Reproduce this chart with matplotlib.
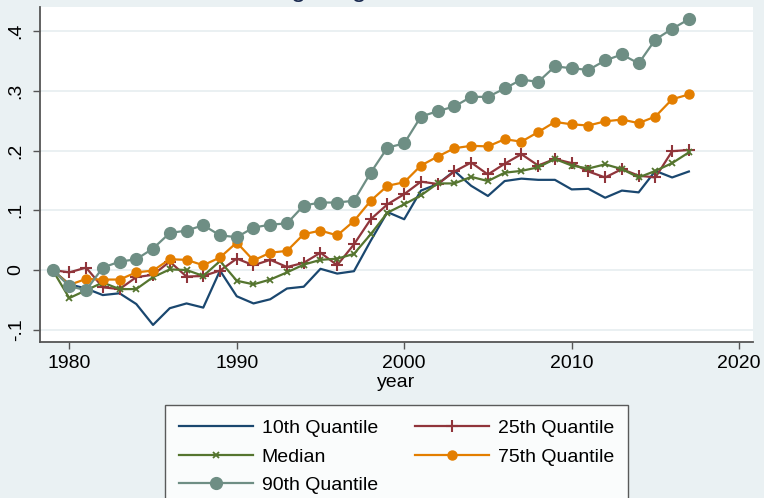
import matplotlib.pyplot as plt

plt.rcParams['font.family'] = ['Liberation Sans', 'DejaVu Sans']

years = list(range(1979, 2018))

q10 = [0, -0.024, -0.031, -0.042, -0.039, -0.057, -0.092, -0.064, -0.056, -0.063, -0.001,
       -0.044, -0.056, -0.049, -0.031, -0.028, 0.002, -0.006, -0.002, 0.049, 0.097,
       0.085, 0.133, 0.144, 0.166, 0.141, 0.124, 0.149, 0.153, 0.151, 0.151,
       0.135, 0.136, 0.121, 0.133, 0.130, 0.166, 0.155, 0.165]
q25 = [0, -0.004, 0.004, -0.029, -0.032, -0.012, -0.008, 0.014, -0.011, -0.010, -0.001,
       0.019, 0.008, 0.017, 0.005, 0.012, 0.029, 0.008, 0.043, 0.085, 0.110,
       0.127, 0.148, 0.144, 0.165, 0.180, 0.160, 0.178, 0.194, 0.175, 0.186,
       0.179, 0.165, 0.155, 0.169, 0.158, 0.155, 0.199, 0.201]
q50 = [0, -0.047, -0.034, -0.021, -0.032, -0.032, -0.012, 0.001, 0.000, -0.010, 0.015,
       -0.018, -0.024, -0.016, -0.004, 0.009, 0.017, 0.019, 0.027, 0.060, 0.096,
       0.110, 0.125, 0.145, 0.145, 0.156, 0.149, 0.163, 0.166, 0.172, 0.186,
       0.175, 0.170, 0.177, 0.169, 0.155, 0.166, 0.179, 0.197]
q75 = [0, -0.025, -0.015, -0.016, -0.016, -0.004, -0.001, 0.018, 0.017, 0.008, 0.021,
       0.046, 0.016, 0.029, 0.032, 0.060, 0.066, 0.058, 0.082, 0.116, 0.141,
       0.147, 0.175, 0.190, 0.204, 0.208, 0.207, 0.219, 0.215, 0.231, 0.248,
       0.244, 0.242, 0.249, 0.252, 0.246, 0.257, 0.286, 0.294]
q90 = [0, -0.027, -0.034, 0.004, 0.014, 0.018, 0.036, 0.062, 0.066, 0.075, 0.058,
       0.055, 0.071, 0.076, 0.078, 0.108, 0.113, 0.113, 0.116, 0.163, 0.205,
       0.212, 0.257, 0.266, 0.274, 0.290, 0.290, 0.304, 0.319, 0.315, 0.341,
       0.338, 0.335, 0.351, 0.361, 0.346, 0.386, 0.404, 0.420]

xticks = [1980, 1990, 2000, 2010, 2020]
yticks = [-0.1, 0, 0.1, 0.2, 0.3, 0.4]
ylabels = ['-.1', '0', '.1', '.2', '.3', '.4']

bg = '#eaf1f3'
fig = plt.figure(figsize=(7.64, 4.98), dpi=100, facecolor=bg)
ax = fig.add_axes([40 / 764, 1 - 342 / 498, 713 / 764, 335 / 498])
ax.set_facecolor('white')

l10, = ax.plot(years, q10, color='#1a476f', lw=1.6, label='10th Quantile')
l25, = ax.plot(years, q25, color='#90353b', lw=1.6, marker='+', ms=9, mew=1.5,
               label='25th Quantile')
l50, = ax.plot(years, q50, color='#55752f', lw=1.6, marker='x', ms=4, mew=1.3,
               label='Median')
l75, = ax.plot(years, q75, color='#e37e00', lw=1.6, marker='o', ms=6.5,
               label='75th Quantile')
l90, = ax.plot(years, q90, color='#6e8e84', lw=1.6, marker='o', ms=8.5,
               label='90th Quantile')

ax.set_xlim(1978.25, 2020.83)
ax.set_ylim(-0.1206, 0.4405)
ax.set_xticks(xticks)
ax.set_yticks(yticks)
ax.set_yticklabels(ylabels, rotation=90, va='center')
ax.tick_params(labelsize=14, length=5, width=1, color='#555555', pad=4)
ax.tick_params(axis='y', pad=6)
ax.grid(axis='y', color='#e6eef0', lw=1.2)
ax.set_axisbelow(True)
for s in ['top', 'right']:
    ax.spines[s].set_visible(False)
for s in ['left', 'bottom']:
    ax.spines[s].set_color('#555555')
    ax.spines[s].set_linewidth(1.3)
ax.set_xlabel('year', fontsize=14, labelpad=2)

# title is mostly outside the picture in the reference
fig.text(262 / 764, 1 + 2.5 / 498, 'Log Wage Growth', fontsize=19, color='#1a2a4f',
         ha='left', va='baseline')

leg = fig.legend([l10, l50, l90, l25, l75],
                 ['10th Quantile', 'Median', '90th Quantile', '25th Quantile', '75th Quantile'],
                 ncol=2, loc='upper center', bbox_to_anchor=(396.5 / 764, 1 - 405 / 498),
                 borderaxespad=0, fontsize=14, frameon=True, fancybox=False,
                 edgecolor='#333333', handlelength=3.8, handletextpad=0.45,
                 columnspacing=1.9, labelspacing=0.55, borderpad=0.75)
leg.get_frame().set_linewidth(1.0)

fig.savefig('out.png', dpi=100, facecolor=bg)
